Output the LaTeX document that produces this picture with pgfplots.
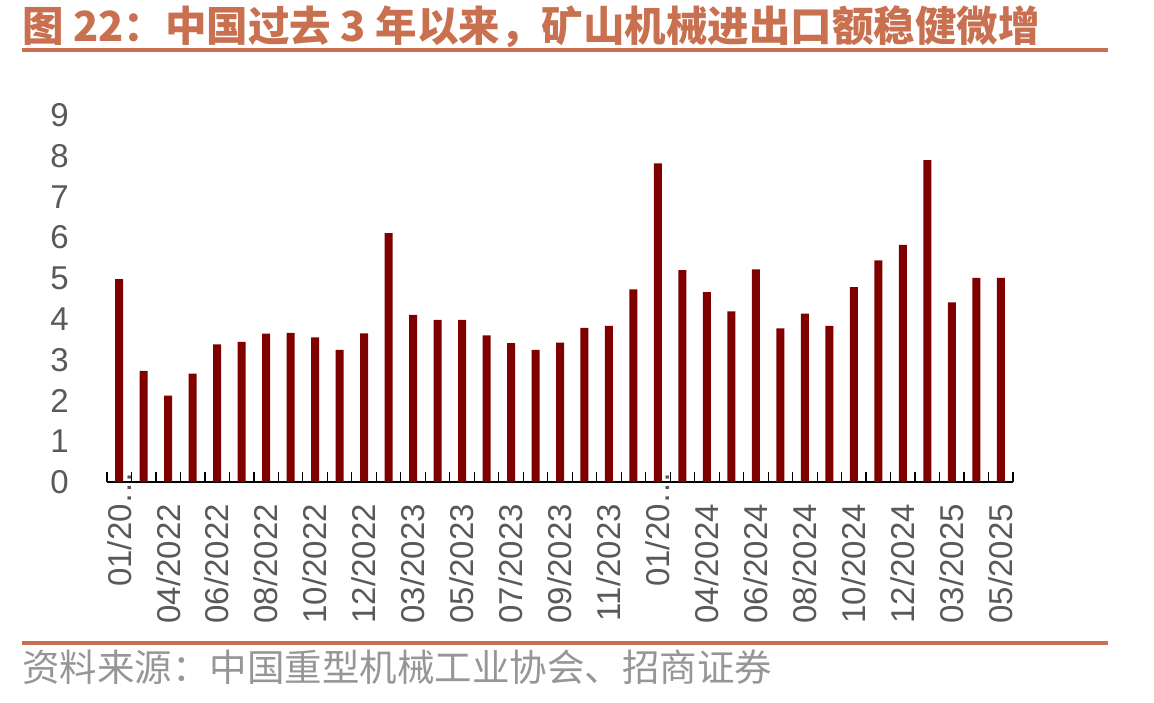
\documentclass[border=0pt]{standalone}
\usepackage{fontspec}
\setmainfont{Liberation Sans}
\newfontfamily\cjk{Noto Sans CJK SC}
\usepackage{pgfplots}
\pgfplotsset{compat=1.18}

\definecolor{barred}{RGB}{128,0,0}
\definecolor{titlec}{RGB}{200,112,80}
\definecolor{tickgray}{RGB}{89,89,89}
\definecolor{srcgray}{RGB}{150,150,150}

\begin{document}
\begin{tikzpicture}[x=1pt,y=1pt]
\useasboundingbox (0,0) rectangle (1154,703);

% title and rules
\node[anchor=base west, inner sep=0pt, text=titlec] at (22,661)
  {\cjk\bfseries\fontsize{41.5}{44}\selectfont 图 22：中国过去 3 年以来，矿山机械进出口额稳健微增};
\draw[titlec, line width=4pt] (22,653) -- (1108,653);
\draw[titlec, line width=4pt] (22,60) -- (1108,60);
\node[anchor=base west, inner sep=0pt, text=srcgray] at (22,21)
  {\cjk\fontsize{37.5}{40}\selectfont 资料来源：中国重型机械工业协会、招商证券};

\begin{axis}[
    at={(107pt,221pt)}, anchor=south west,
    scale only axis, width=906pt, height=366.7pt,
    xmin=-0.5, xmax=36.5, ymin=0, ymax=9,
    axis x line*=bottom, axis y line*=left,
    y axis line style={draw=none},
    x axis line style={black, line width=1.3pt},
    ytick={0,1,...,9}, ytick style={draw=none},
    xtick={0,2,...,36},
    xticklabels={{01/20\rlap{…}},04/2022,06/2022,08/2022,10/2022,12/2022,
      03/2023,05/2023,07/2023,09/2023,11/2023,{01/20\rlap{…}},
      04/2024,06/2024,08/2024,10/2024,12/2024,03/2025,05/2025},
    minor xtick={-0.5,0.5,...,36.5},
    tick align=inside,
    major tick length=0pt, minor tick length=10pt,
    minor tick style={black, line width=1.2pt},
    /pgf/number format/assume math mode=true,
    xticklabel style={rotate=90, anchor=east, inner xsep=22pt, inner ysep=0pt,
      font=\fontsize{33}{36}\selectfont, text=tickgray},
    yticklabel style={anchor=east, inner xsep=38pt,
      font=\fontsize{33}{36}\selectfont, text=tickgray},
]
\addplot[ybar, bar width=8pt, fill=barred, draw=none] coordinates {
  (0,4.98) (1,2.73) (2,2.12) (3,2.66) (4,3.38) (5,3.44) (6,3.64) (7,3.66)
  (8,3.55) (9,3.24) (10,3.65) (11,6.11) (12,4.10) (13,3.98) (14,3.98)
  (15,3.60) (16,3.41) (17,3.24) (18,3.42) (19,3.78) (20,3.83) (21,4.73)
  (22,7.82) (23,5.20) (24,4.66) (25,4.19) (26,5.22) (27,3.77) (28,4.13)
  (29,3.83) (30,4.78) (31,5.44) (32,5.82) (33,7.90) (34,4.41) (35,5.01)
  (36,5.01)
};
\end{axis}
\end{tikzpicture}
\end{document}
